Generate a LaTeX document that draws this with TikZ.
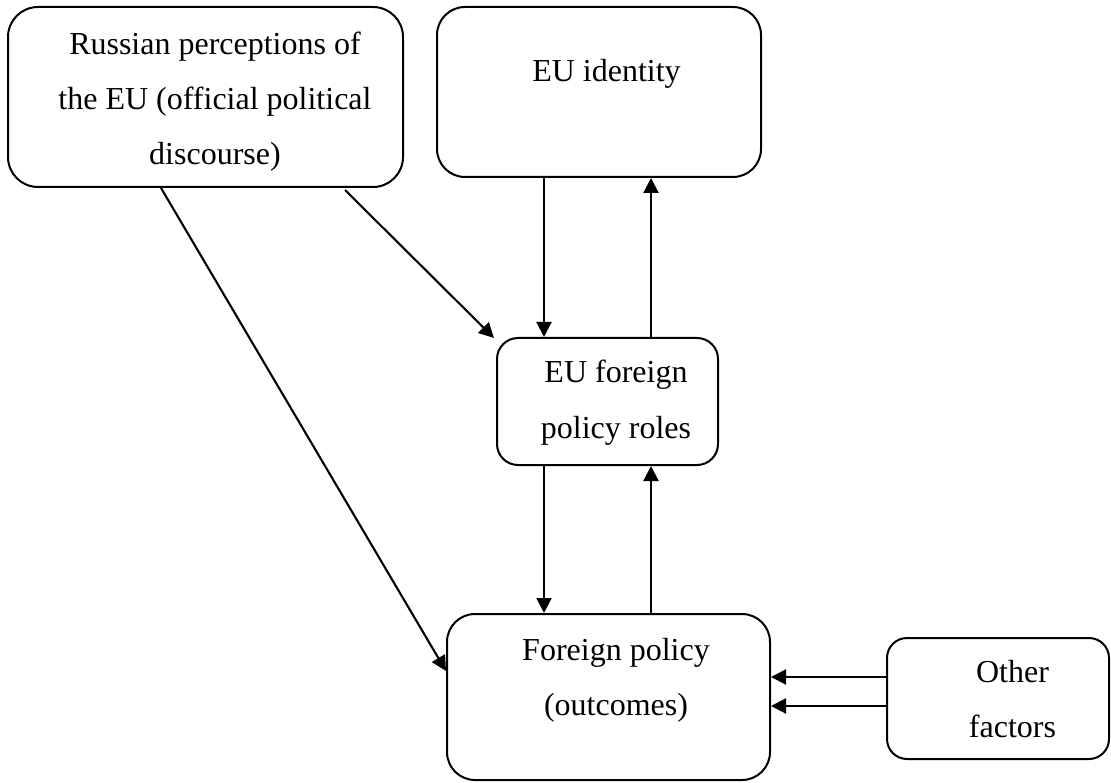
\documentclass[tikz,border=0pt]{standalone}
\usepackage{fontspec}
\setmainfont[Ligatures=NoCommon]{Liberation Serif}
\usetikzlibrary{arrows.meta}
\begin{document}
\begin{tikzpicture}[x=1pt,y=-1pt,
  box/.style={draw=black, line width=2pt, inner sep=0pt, fill=white},
  lbl/.style={anchor=base, inner sep=0pt, font=\fontsize{32pt}{55pt}\selectfont},
  arr/.style={line width=2.1pt, -{Triangle[length=15pt,width=15pt]}}]
\useasboundingbox (0,0) rectangle (1111,783);
% boxes
\node[box, minimum width=395pt, minimum height=180pt, rounded corners=30pt] (rus) at (205.5,97) {};
\node[box, minimum width=324pt, minimum height=170pt, rounded corners=28pt] (id) at (599,92) {};
\node[box, minimum width=221pt, minimum height=127pt, rounded corners=21pt] (roles) at (607.5,401.5) {};
\node[box, minimum width=323pt, minimum height=166pt, rounded corners=28pt] (fp) at (608.5,697) {};
\node[box, minimum width=222pt, minimum height=121pt, rounded corners=20pt] (oth) at (998,698.5) {};
% texts
\node[lbl] (rus-t) at (215,55) {\begin{tabular}[t]{@{}c@{}}Russian perceptions of\\the EU (official political\\discourse)\end{tabular}};
\node[lbl] (id-t) at (606.5,82) {EU identity};
\node[lbl] (roles-t) at (616,383) {\begin{tabular}[t]{@{}c@{}}EU foreign\\policy roles\end{tabular}};
\node[lbl] (fp-t) at (616,660) {\begin{tabular}[t]{@{}c@{}}Foreign policy\\(outcomes)\end{tabular}};
\node[lbl] (oth-t) at (1012.5,682) {\begin{tabular}[t]{@{}c@{}}Other\\factors\end{tabular}};
% connectors
\draw[arr] ([xshift=154pt]rus.south west) -- ([yshift=-58pt]fp.north west);
\draw[arr] ([xshift=-59pt,yshift=-2pt]rus.south east) -- ([xshift=-2pt,yshift=-1pt]roles.north west);
\path ([xshift=108pt]id.south west) coordinate (a)
      ([xshift=155pt]roles.north west) coordinate (b)
      ([xshift=48pt]roles.south west) coordinate (c)
      ([xshift=155pt]roles.south west) coordinate (d)
      ([yshift=-40pt]oth.north west) coordinate (e)
      ([yshift=-69pt]oth.north west) coordinate (f);
\draw[arr] (a) -- (a |- roles.north);
\draw[arr] (b) -- (b |- id.south);
\draw[arr] (c) -- (c |- fp.north);
\draw[arr] (d |- fp.north) -- (d);
\draw[arr] (e) -- (e -| fp.east);
\draw[arr] (f) -- (f -| fp.east);
\end{tikzpicture}
\end{document}
